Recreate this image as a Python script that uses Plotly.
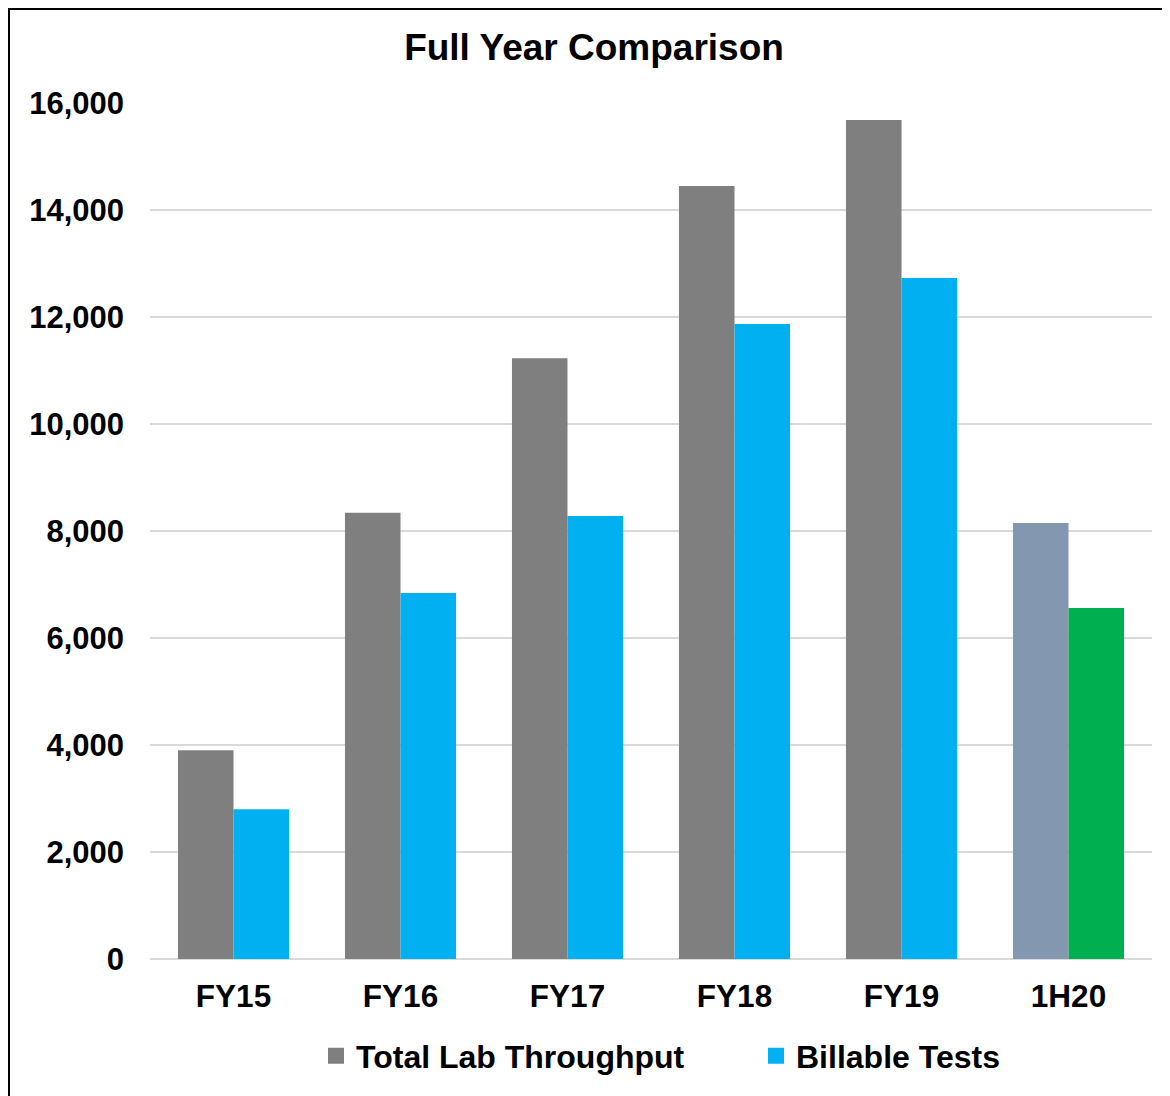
import plotly.graph_objects as go

categories = ["FY15", "FY16", "FY17", "FY18", "FY19", "1H20"]
total_lab = [3900, 8340, 11230, 14450, 15680, 8150]
billable = [2800, 6840, 8280, 11870, 12730, 6560]
y_ticks = [0, 2000, 4000, 6000, 8000, 10000, 12000, 14000, 16000]
y_labels = ["0", "2,000", "4,000", "6,000", "8,000", "10,000", "12,000", "14,000", "16,000"]

GRAY = "#7F7F7F"
CYAN = "#00B0F0"
BLUE_GRAY = "#8497B0"
GREEN = "#00B050"

FONT = "Liberation Sans, Arial, sans-serif"

# plot area in figure pixels (page body adds an 8px offset)
L, R, T, B = 142, 1144, 95, 951
PW, PH = R - L, B - T

fig = go.Figure()

fig.add_trace(
    go.Bar(
        x=categories,
        y=total_lab,
        name="Total Lab Throughput",
        marker=dict(color=[GRAY] * 5 + [BLUE_GRAY], line=dict(width=0)),
        showlegend=False,
    )
)

fig.add_trace(
    go.Bar(
        x=categories,
        y=billable,
        name="Billable Tests",
        marker=dict(color=[CYAN] * 5 + [GREEN], line=dict(width=0)),
        showlegend=False,
    )
)

# legend entries with larger square swatches, one legend each
for name, color, lg in [("Total Lab Throughput", GRAY, "legend"), ("Billable Tests", CYAN, "legend2")]:
    fig.add_trace(
        go.Scatter(
            x=[None],
            y=[None],
            mode="markers",
            name=name,
            legend=lg,
            marker=dict(symbol="square", size=18, color=color),
        )
    )

legend_style = dict(
    orientation="h",
    xanchor="left",
    y=(B - 1048) / PH,
    yanchor="middle",
    font=dict(family=FONT, size=32, color="black", weight="bold"),
    itemsizing="trace",
    bgcolor="rgba(0,0,0,0)",
)

fig.update_layout(
    width=1170,
    height=1096,
    barmode="group",
    bargap=0.335,
    bargroupgap=0,
    plot_bgcolor="white",
    paper_bgcolor="white",
    margin=dict(l=L, r=1170 - R, t=T, b=1096 - B),
    font=dict(family=FONT, size=31, color="black", weight="bold"),
    title=dict(
        text="Full Year Comparison",
        x=586 / 1170,
        xanchor="center",
        y=1 - 39 / 1096,
        yanchor="middle",
        font=dict(family=FONT, size=37, color="black", weight="bold"),
    ),
    legend=dict(x=(308 - L) / PW, **legend_style),
    legend2=dict(x=(748 - L) / PW, **legend_style),
    shapes=[
        dict(
            type="rect",
            xref="paper",
            yref="paper",
            x0=(1 - L) / PW,
            x1=(1185 - L) / PW,
            y0=(B - 1110) / PH,
            y1=(B - 1) / PH,
            line=dict(color="black", width=2),
            fillcolor="rgba(0,0,0,0)",
            layer="above",
        )
    ],
)

fig.update_yaxes(
    range=[0, 16000],
    tickvals=y_ticks,
    ticktext=y_labels,
    showgrid=True,
    gridcolor="#D9D9D9",
    gridwidth=1.5,
    zeroline=True,
    zerolinecolor="#D9D9D9",
    zerolinewidth=1.5,
    showline=False,
    ticks="",
    ticklabelstandoff=25,
    tickfont=dict(family=FONT, size=31, color="black", weight="bold"),
)

fig.update_xaxes(
    showgrid=False,
    showline=False,
    ticks="",
    ticklabelstandoff=15,
    tickfont=dict(family=FONT, size=31.5, color="black", weight="bold"),
)

fig.write_html("out.html")
